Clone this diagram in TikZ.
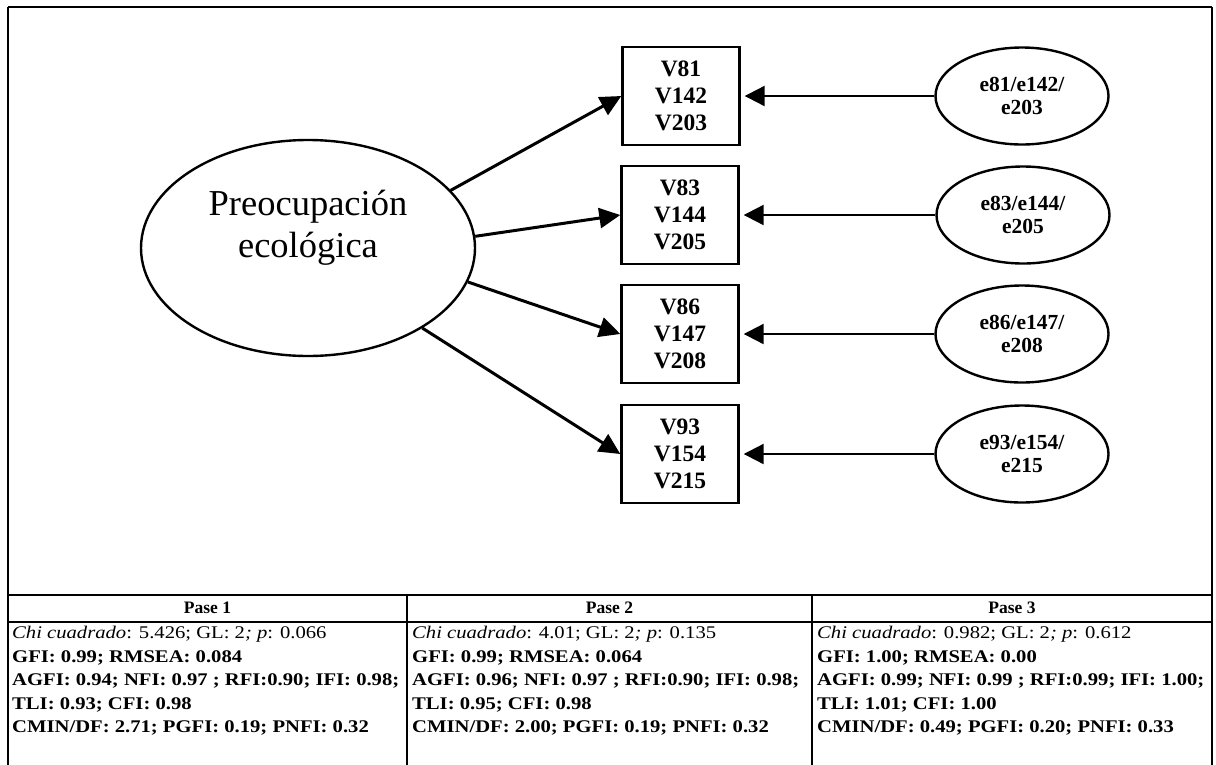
\documentclass[tikz,border=0pt]{standalone}
\usepackage{fontspec}
\setmainfont{Liberation Serif}
\newfontfamily\tabfont[FakeStretch=1.16]{Liberation Serif}
\usetikzlibrary{shapes.geometric,arrows.meta}

\tikzset{
  latent/.style={ellipse, draw, line width=2.4pt, minimum width=334pt, minimum height=216pt, inner sep=0pt},
  latentlabel/.style={align=center, inner sep=0pt, font=\fontsize{36.5}{42}\selectfont},
  item/.style={rectangle, draw, line width=2.4pt, minimum width=117pt, minimum height=98pt, inner sep=0pt,
    align=center, font=\bfseries\fontsize{23.5}{27}\selectfont},
  errnode/.style={ellipse, draw, line width=2.4pt, minimum width=173pt, minimum height=97pt, inner sep=0pt,
    align=center, font=\bfseries\fontsize{21.5}{23}\selectfont},
  loading/.style={line width=3pt, -{Triangle[length=21pt,width=20pt]}},
  errpath/.style={line width=2.2pt, -{Triangle[length=20pt,width=20pt]}, shorten >=4pt},
  rule/.style={line width=2.2pt},
  passhead/.style={anchor=base, inner sep=0pt, font=\bfseries\fontsize{17.5}{20}\selectfont},
  passbody/.style={anchor=north west, inner sep=0pt, align=left, font=\tabfont\fontsize{17.8}{23.6}\selectfont},
}

\begin{document}
\begin{tikzpicture}[x=1pt, y=-1pt]
\useasboundingbox (0,0) rectangle (1216,764);

% outer frame and table rules
\draw[rule] (8,7) -- (1212,7);
\draw[rule] (8,7) -- (8,775);
\draw[rule] (1212,7) -- (1212,775);
\draw[rule] (8,595) -- (1212,595);
\draw[rule] (8,622) -- (1212,622);
\draw[rule] (407,595) -- (407,775);
\draw[rule] (812,595) -- (812,775);

% latent factor
\node[latent] (pe) at (308,248) {};
\node[latentlabel] (pelabel) at (308,228) {Preocupación\\ecológica};

% observed indicators
\node[item] (b1) at (681,96)  {V81\\V142\\V203};
\node[item] (b2) at (680,215) {V83\\V144\\V205};
\node[item] (b3) at (680,334) {V86\\V147\\V208};
\node[item] (b4) at (680,454) {V93\\V154\\V215};

% error terms
\node[errnode] (e1) at (1022,96)  {e81/e142/\\e203};
\node[errnode] (e2) at (1023,215) {e83/e144/\\e205};
\node[errnode] (e3) at (1022,334) {e86/e147/\\e208};
\node[errnode] (e4) at (1022,454) {e93/e154/\\e215};

% factor loadings
\draw[loading] (pe.22)  -- (b1.west);
\draw[loading] (pe.4)   -- (b2.west);
\draw[loading] (pe.-12) -- (b3.west);
\draw[loading] (pe.-35) -- (b4.west);

% error paths
\draw[errpath] (e1.west) -- (b1.east);
\draw[errpath] (e2.west) -- (b2.east);
\draw[errpath] (e3.west) -- (b3.east);
\draw[errpath] (e4.west) -- (b4.east);

% fit indices per pass
\node[passhead] (h1) at (207.5,613) {Pase 1};
\node[passhead] (h2) at (609.5,613) {Pase 2};
\node[passhead] (h3) at (1012,613)  {Pase 3};

\node[passbody] (t1) at (12,626) {%
  \textit{Chi cuadrado}: 5.426; GL: 2\textit{; p}: 0.066\\
  \textbf{GFI: 0.99; RMSEA: 0.084}\\
  \textbf{AGFI: 0.94; NFI: 0.97 ; RFI:0.90; IFI: 0.98;}\\
  \textbf{TLI: 0.93; CFI: 0.98}\\
  \textbf{CMIN/DF: 2.71; PGFI: 0.19; PNFI: 0.32}};
\node[passbody] (t2) at (412,626) {%
  \textit{Chi cuadrado}: 4.01; GL: 2\textit{; p}: 0.135\\
  \textbf{GFI: 0.99; RMSEA: 0.064}\\
  \textbf{AGFI: 0.96; NFI: 0.97 ; RFI:0.90; IFI: 0.98;}\\
  \textbf{TLI: 0.95; CFI: 0.98}\\
  \textbf{CMIN/DF: 2.00; PGFI: 0.19; PNFI: 0.32}};
\node[passbody] (t3) at (817,626) {%
  \textit{Chi cuadrado}: 0.982; GL: 2\textit{; p}: 0.612\\
  \textbf{GFI: 1.00; RMSEA: 0.00}\\
  \textbf{AGFI: 0.99; NFI: 0.99 ; RFI:0.99; IFI: 1.00;}\\
  \textbf{TLI: 1.01; CFI: 1.00}\\
  \textbf{CMIN/DF: 0.49; PGFI: 0.20; PNFI: 0.33}};
\end{tikzpicture}
\end{document}
